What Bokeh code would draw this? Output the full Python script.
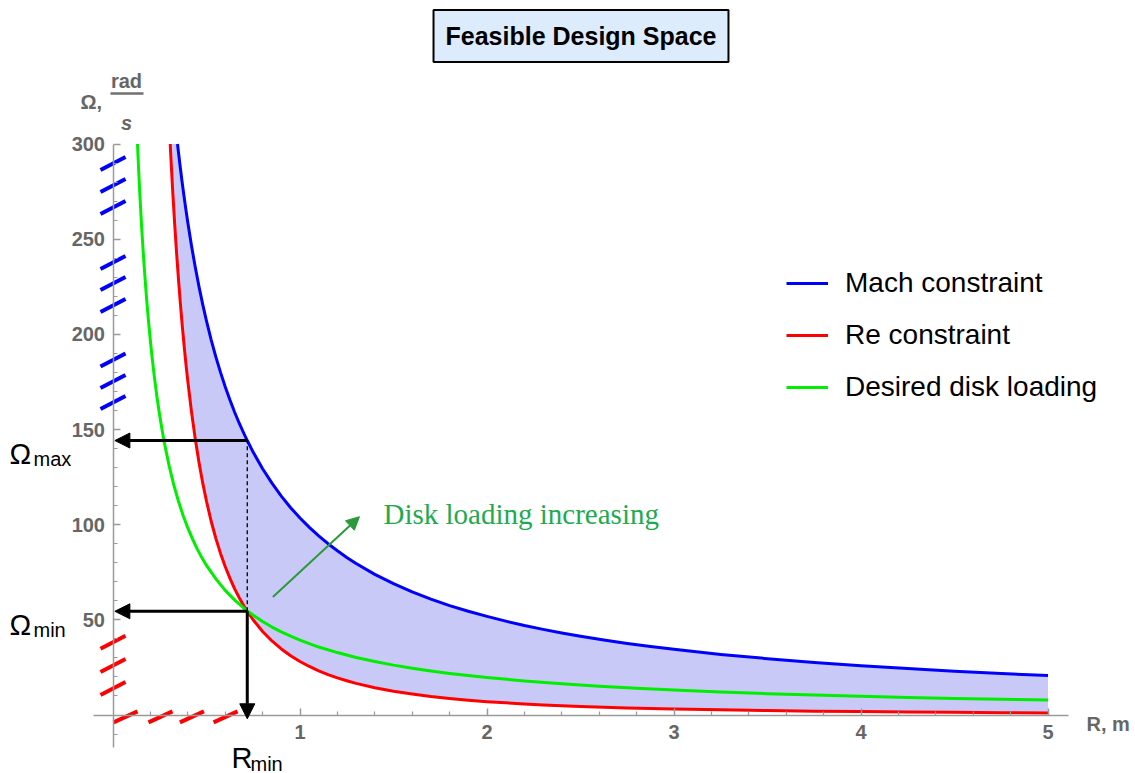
from bokeh.plotting import figure
from bokeh.models import (Range1d, LinearAxis, FixedTicker, Legend, LegendItem,
                          Arrow, NormalHead, Label)
from bokeh.embed import file_html
from bokeh.resources import INLINE

# ---------------- data ----------------
mach_R = [0.345, 0.35, 0.36, 0.37, 0.38, 0.39, 0.40, 0.42, 0.44, 0.46, 0.48, 0.50, 0.525,
          0.55, 0.575, 0.60, 0.625, 0.65, 0.675, 0.70, 0.718, 0.75, 0.80, 0.85, 0.90, 0.95,
          1.00, 1.05, 1.10, 1.15, 1.20, 1.25, 1.30, 1.40, 1.50, 1.60, 1.70, 1.80, 1.90,
          2.00, 2.10, 2.20, 2.30, 2.40, 2.50, 2.625, 2.75, 2.875, 3.00, 3.25, 3.50, 3.75,
          4.00, 4.25, 4.50, 4.75, 5.00]
mach_W = [300.0, 295.7, 287.5, 279.7, 272.4, 265.4, 258.8, 246.4, 235.2, 225.0, 215.6, 207.0, 197.1,
          188.2, 180.0, 172.5, 165.6, 159.2, 153.3, 147.9, 144.2, 138.0, 129.4, 121.8, 115.0, 108.9,
          103.5, 98.6, 94.1, 90.0, 86.3, 82.8, 79.6, 73.9, 69.0, 64.7, 60.9, 57.5, 54.5,
          51.8, 49.3, 47.0, 45.0, 43.1, 41.4, 39.4, 37.6, 36.0, 34.5, 31.8, 29.6, 27.6,
          25.9, 24.4, 23.0, 21.8, 20.7]

re_R = [0.306, 0.31, 0.32, 0.33, 0.34, 0.35, 0.36, 0.37, 0.38, 0.39, 0.40, 0.42, 0.44, 0.46,
        0.48, 0.50, 0.525, 0.55, 0.575, 0.60, 0.625, 0.65, 0.675, 0.70, 0.718, 0.75, 0.80,
        0.85, 0.90, 0.95, 1.00, 1.05, 1.10, 1.15, 1.20, 1.25, 1.30, 1.40, 1.50, 1.60, 1.70,
        1.80, 1.90, 2.00, 2.10, 2.20, 2.30, 2.40, 2.50, 2.625, 2.75, 2.875, 3.00, 3.25,
        3.50, 3.75, 4.00, 4.25, 4.50, 4.75, 5.00]
re_W = [300.0, 292.1, 274.1, 257.8, 242.8, 229.1, 216.6, 205.0, 194.4, 184.5, 175.4, 159.1, 145.0, 132.7,
        121.8, 112.3, 101.8, 92.8, 84.9, 78.0, 71.9, 66.4, 61.6, 57.3, 54.5, 49.9, 43.9,
        38.9, 34.7, 31.1, 28.1, 25.5, 23.2, 21.2, 19.5, 18.0, 16.6, 14.3, 12.5, 11.0, 9.7,
        8.7, 7.8, 7.0, 6.4, 5.8, 5.3, 4.9, 4.5, 4.1, 3.7, 3.4, 3.1, 2.7,
        2.3, 2.0, 1.8, 1.6, 1.4, 1.2, 1.1]

disk_R = [0.131, 0.135, 0.14, 0.145, 0.15, 0.155, 0.16, 0.17, 0.18, 0.19, 0.20, 0.21, 0.22,
          0.235, 0.25, 0.265, 0.28, 0.30, 0.325, 0.35, 0.375, 0.40, 0.425, 0.45, 0.475, 0.50,
          0.55, 0.60, 0.65, 0.70, 0.718, 0.75, 0.80, 0.85, 0.90, 0.95, 1.00, 1.10, 1.20,
          1.30, 1.40, 1.50, 1.60, 1.70, 1.80, 1.90, 2.00, 2.20, 2.40, 2.60, 2.80, 3.00,
          3.25, 3.50, 3.75, 4.00, 4.25, 4.50, 4.75, 5.00]
disk_W = [300.0, 291.1, 280.7, 271.0, 262.0, 253.5, 245.6, 231.2, 218.3, 206.8, 196.5, 187.1, 178.6,
          167.2, 157.2, 148.3, 140.4, 131.0, 120.9, 112.3, 104.8, 98.3, 92.5, 87.3, 82.7, 78.6,
          71.5, 65.5, 60.5, 56.1, 54.7, 52.4, 49.1, 46.2, 43.7, 41.4, 39.3, 35.7, 32.8,
          30.2, 28.1, 26.2, 24.6, 23.1, 21.8, 20.7, 19.7, 17.9, 16.4, 15.1, 14.0, 13.1,
          12.1, 11.2, 10.5, 9.8, 9.2, 8.7, 8.3, 7.9]

R_min = 0.718
Omega_max = 144.2
Omega_min = 54.5

x_ticks = [1, 2, 3, 4, 5]
y_ticks = [50, 100, 150, 200, 250, 300]

# "broken axis" slash marks
blue_hatch_W = [289.8, 278.2, 266.6, 237.7, 226.7, 215.2, 186.5, 175.2, 164.2]
red_hatch_W = [38.2, 26.0, 13.9]
red_hatch_R = [0.067, 0.254, 0.422, 0.602]

series_names = ["Mach constraint", "Re constraint", "Desired disk loading"]

# ---------------- figure ----------------
W, H = 1135, 773
X0_PX, PX_PER_R = 112.5, 187.0
Y0_PX, PX_PER_W = 714.5, 1.9033

p = figure(width=W, height=H,
           x_range=Range1d(-X0_PX / PX_PER_R, (W - X0_PX) / PX_PER_R),
           y_range=Range1d(-(H - Y0_PX) / PX_PER_W, Y0_PX / PX_PER_W),
           output_backend="svg", toolbar_location=None, min_border=0,
           x_axis_type=None, y_axis_type=None)
p.outline_line_color = None
p.background_fill_color = "white"
p.border_fill_color = "white"

AX_COL = "#9a9a9a"
LBL_COL = "#666666"


def style_axis(ax, standoff):
    ax.axis_line_color = AX_COL
    ax.axis_line_width = 1.5
    ax.major_tick_line_color = AX_COL
    ax.minor_tick_line_color = AX_COL
    ax.major_tick_line_width = 1.5
    ax.minor_tick_line_width = 1.2
    ax.major_tick_in = 7
    ax.major_tick_out = 0
    ax.minor_tick_in = 4
    ax.minor_tick_out = 0
    ax.major_label_text_font = "Liberation Sans"
    ax.major_label_text_font_style = "bold"
    ax.major_label_text_font_size = "20px"
    ax.major_label_text_color = LBL_COL
    ax.major_label_standoff = standoff


x_minor = [round(0.2 * i, 1) for i in range(1, 26) if i % 5 != 0]
y_minor = [-10] + [v for v in range(10, 300, 10) if v % 50 != 0]

xaxis = LinearAxis(fixed_location=0, bounds=(-0.104, 5.11),
                   ticker=FixedTicker(ticks=x_ticks, minor_ticks=x_minor))
style_axis(xaxis, 10)
p.add_layout(xaxis, "below")

yaxis = LinearAxis(fixed_location=0, bounds=(-17, 300),
                   ticker=FixedTicker(ticks=y_ticks, minor_ticks=y_minor))
style_axis(yaxis, 8)
p.add_layout(yaxis, "left")

# feasible region between Re (lower) and Mach (upper)
p.patch(re_R + mach_R[::-1], re_W + mach_W[::-1],
        fill_color="#c9c9f7", line_color=None)

r_mach = p.line(mach_R, mach_W, line_color="#0000ff", line_width=3, line_join="round")
r_re = p.line(re_R, re_W, line_color="#ff0000", line_width=3, line_join="round")
r_disk = p.line(disk_R, disk_W, line_color="#00ee00", line_width=3, line_join="round")

# slash marks on the axes
hx = 12.5 / PX_PER_R
hy = 6.5 / PX_PER_W
p.segment(x0=[-hx] * len(blue_hatch_W), y0=[w - hy for w in blue_hatch_W],
          x1=[hx] * len(blue_hatch_W), y1=[w + hy for w in blue_hatch_W],
          line_color="#0000ff", line_width=4)
p.segment(x0=[-hx] * len(red_hatch_W), y0=[w - hy for w in red_hatch_W],
          x1=[hx] * len(red_hatch_W), y1=[w + hy for w in red_hatch_W],
          line_color="#ff0000", line_width=4)
hx2 = 12.0 / PX_PER_R
hy2 = 5.5 / PX_PER_W
p.segment(x0=[r - hx2 for r in red_hatch_R], y0=[-1 - hy2] * len(red_hatch_R),
          x1=[r + hx2 for r in red_hatch_R], y1=[-1 + hy2] * len(red_hatch_R),
          line_color="#ff0000", line_width=4)

# dashed guide
p.segment(x0=[R_min], y0=[Omega_min], x1=[R_min], y1=[Omega_max],
          line_color="black", line_width=1.3, line_dash="4 3")


def black_head():
    return NormalHead(size=15, fill_color="black", line_color="black", line_width=1)


p.add_layout(Arrow(end=black_head(), x_start=R_min, y_start=Omega_max,
                   x_end=0.01, y_end=Omega_max, line_color="black", line_width=3))
p.add_layout(Arrow(end=black_head(), x_start=R_min, y_start=Omega_min,
                   x_end=0.01, y_end=Omega_min, line_color="black", line_width=3))
p.add_layout(Arrow(end=black_head(), x_start=R_min, y_start=Omega_min,
                   x_end=R_min, y_end=-2, line_color="black", line_width=3))

# green "disk loading increasing" arrow
p.add_layout(Arrow(end=NormalHead(size=13, fill_color="#2a9a3a", line_color="#2a9a3a", line_width=1),
                   x_start=0.855, y_start=62, x_end=1.318, y_end=104.2,
                   line_color="#2a9a3a", line_width=2))


def slabel(text, x, y_px, size, color="black", style="normal", font="Liberation Sans",
           align="left", baseline="alphabetic", **kw):
    lab = Label(x=x, y=H - y_px, x_units="screen", y_units="screen", text=text,
                text_font=font, text_font_size=size, text_color=color,
                text_font_style=style, text_align=align, text_baseline=baseline, **kw)
    p.add_layout(lab)
    return lab


slabel("Disk loading increasing", 383, 513, "29px", color="#1faa50", font="Liberation Serif")

# Omega_max / Omega_min / R_min labels
slabel("Ω", 9, 453, "29px")
slabel("max", 33, 458, "20px")
slabel("Ω", 9, 624, "29px")
slabel("min", 33, 629, "20px")
slabel("R", 231, 757, "29px")
slabel("min", 250, 763, "20px")

# axis labels
slabel("Ω,", 80, 101, "20px", color=LBL_COL, style="bold")
slabel("rad", 126, 80, "20px", color=LBL_COL, style="bold", align="center")
slabel("s", 126, 122, "20px", color=LBL_COL, style="bold italic", align="center")
frac_y = (Y0_PX - 93) / PX_PER_W
p.segment(x0=[(110 - X0_PX) / PX_PER_R], y0=[frac_y], x1=[(143 - X0_PX) / PX_PER_R], y1=[frac_y],
          line_color="#707070", line_width=2.5)
slabel("R, m", 1086, 723, "20px", color=LBL_COL, style="bold")

# title box
slabel("Feasible Design Space", 580.5, 35.5, "25px", style="bold", align="center",
       baseline="middle", background_fill_color="#dcecfd", border_line_color="black",
       border_line_width=2, padding=12)

# legend
legend = Legend(items=[LegendItem(label=series_names[0], renderers=[r_mach]),
                       LegendItem(label=series_names[1], renderers=[r_re]),
                       LegendItem(label=series_names[2], renderers=[r_disk])],
                location=(786, H - 407), orientation="vertical",
                glyph_width=42, glyph_height=40, label_height=40, spacing=12,
                padding=0, margin=0, label_standoff=17,
                border_line_color=None, background_fill_alpha=0,
                label_text_font="Liberation Sans", label_text_font_size="28px",
                label_text_color="black")
p.add_layout(legend, "center")

open("out.html", "w").write(file_html(p, INLINE))
